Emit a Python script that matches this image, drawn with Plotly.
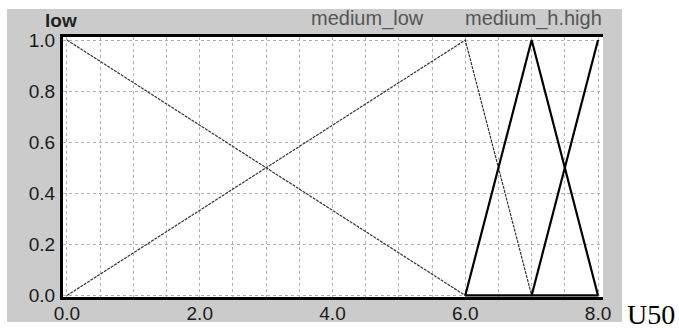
import plotly.graph_objects as go

# Membership functions of U50 (breakpoints and degrees)
x_points = [0.0, 6.0, 7.0, 8.0]
low = [1.0, 0.0, 0.0, 0.0]
medium_low = [0.0, 1.0, 0.0, 0.0]
medium = [0.0, 0.0, 1.0, 0.0]
high = [0.0, 0.0, 0.0, 1.0]

x_ticks = [0, 2, 4, 6, 8]
x_tick_text = ["0.0", "2.0", "4.0", "6.0", "8.0"]
y_ticks = [0, 0.2, 0.4, 0.6, 0.8, 1.0]
y_tick_text = ["0.0", "0.2", "0.4", "0.6", "0.8", "1.0"]

set_labels = ["low", "medium_low", "medium_h.high"]
axis_name = "U50"

W, H = 679, 332
L, R, T, B = 63, 76, 37, 35
pw, ph = W - L - R, H - T - B


def px(xp):
    return (xp - L) / pw


def py(yp):
    return (H - B - yp) / ph


thin = dict(color="#333333", width=1.2, dash="3px,1px")
bold = dict(color="#000000", width=2.2)

fig = go.Figure()
# thin grey sets: low (falls 0->6), medium_low (rises 0->6, falls 6->7)
fig.add_trace(go.Scatter(x=x_points[:2], y=low[:2], mode="lines", line=thin, name="low"))
fig.add_trace(go.Scatter(x=x_points[:3], y=medium_low[:3], mode="lines", line=thin, name="medium_low"))
# bold sets
fig.add_trace(go.Scatter(x=x_points[1:], y=medium[1:], mode="lines", line=bold, name="medium"))
fig.add_trace(go.Scatter(x=x_points[2:], y=high[2:], mode="lines", line=bold, name="high"))
# zero parts along the baseline
fig.add_trace(go.Scatter(x=x_points[1:], y=low[1:], mode="lines", line=bold, name="low0"))

fig.add_shape(type="rect", xref="paper", yref="paper",
              x0=px(7), x1=px(622), y0=py(322), y1=py(9),
              fillcolor="#cbcbcb", line_width=0, layer="below")
fig.add_shape(type="rect", xref="paper", yref="paper",
              x0=0, x1=1, y0=0, y1=1,
              fillcolor="#ffffff", line_width=0, layer="below")

fig.add_annotation(text="<b>" + set_labels[0] + "</b>", xref="paper", yref="paper",
                   x=px(61), y=py(20), showarrow=False, xanchor="center", yanchor="middle",
                   font=dict(family="Liberation Sans", size=19, color="#222222"))
fig.add_annotation(text=set_labels[1], xref="paper", yref="paper",
                   x=px(367), y=py(18), showarrow=False, xanchor="center", yanchor="middle",
                   font=dict(family="Liberation Sans", size=20, color="#555555"))
fig.add_annotation(text=set_labels[2], xref="paper", yref="paper",
                   x=px(533), y=py(18), showarrow=False, xanchor="center", yanchor="middle",
                   font=dict(family="Liberation Sans", size=20, color="#555555"))
fig.add_annotation(text=axis_name, xref="paper", yref="paper",
                   x=px(651), y=py(314), showarrow=False, xanchor="center", yanchor="middle",
                   font=dict(family="Liberation Serif", size=28, color="#000000"))

grid = dict(showgrid=True, gridcolor="#b0b0b0", gridwidth=1, griddash="dot")

fig.update_layout(
    width=W, height=H,
    margin=dict(l=L, r=R, t=T, b=B, pad=0, autoexpand=False),
    paper_bgcolor="#ffffff", plot_bgcolor="#ffffff",
    showlegend=False,
    xaxis=dict(range=[-0.06, 8.075], tickvals=x_ticks, ticktext=x_tick_text,
               ticks="", ticklen=0, ticklabelstandoff=-3, automargin=False,
               tickfont=dict(family="Liberation Sans", size=19, color="#1a1a1a"),
               showline=True, linecolor="#000000", linewidth=3, mirror=True,
               zeroline=False,
               minor=dict(dtick=0.5, showgrid=True, gridcolor="#b0b0b0", griddash="dot", gridwidth=1),
               **grid),
    yaxis=dict(range=[-0.006, 1.012], tickvals=y_ticks, ticktext=y_tick_text,
               ticks="", ticklen=0, ticklabelstandoff=1, automargin=False,
               tickfont=dict(family="Liberation Sans", size=19, color="#1a1a1a"),
               showline=True, linecolor="#000000", linewidth=3, mirror=False,
               zeroline=False, **grid),
)

fig.write_html("out.html")
